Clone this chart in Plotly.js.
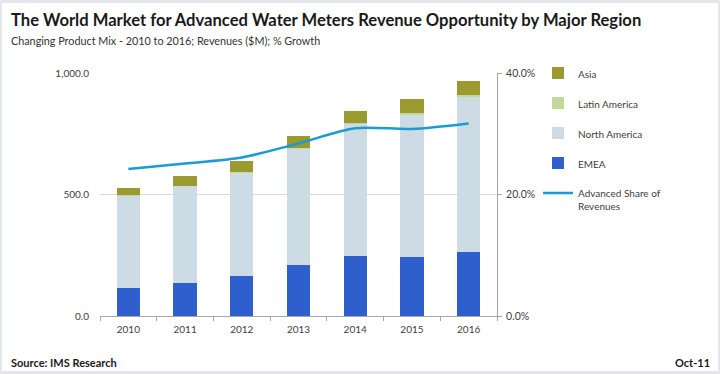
<!DOCTYPE html>
<html>
<head>
<meta charset="utf-8">
<script src="https://cdn.plot.ly/plotly-3.0.1.min.js"></script>
<style>
  html, body { margin: 0; padding: 0; background: #e3e7eb; width: 720px; height: 374px; overflow: hidden; }
  #chart { position: absolute; left: 2px; top: 3px; width: 716px; height: 368px; background: #fff; }
</style>
</head>
<body>
<div id="chart"></div>
<script>
const years = ['2010', '2011', '2012', '2013', '2014', '2015', '2016'];
const emea = [116, 134, 165, 209, 247, 244, 265];
const northAmerica = [378, 400, 423, 478, 543, 584, 637];
const latinAmerica = [3, 3, 4, 5, 5, 6, 8];
const asia = [28, 39, 46, 49, 50, 58, 57];
const advancedShare = [0.242, 0.251, 0.261, 0.284, 0.309, 0.308, 0.317];

const titleText = 'The World Market for Advanced Water Meters Revenue Opportunity by Major Region';
const subtitleText = 'Changing Product Mix - 2010 to 2016; Revenues ($M); % Growth';
const sourceText = 'Source: IMS Research';
const dateText = 'Oct-11';

const W = 716, H = 368;
const m = {l: 98, r: 221, t: 70, b: 55};
const pw = W - m.l - m.r, ph = H - m.t - m.b;
const px = x => (x - m.l) / pw;
const py = y => 1 - (y - m.t) / ph;

const font = 'Lato, "Open Sans", sans-serif';

const traces = [
  {type: 'bar', x: years, y: emea, name: 'EMEA', marker: {color: '#2f5fcc'}, legendgroup: 'e', legendrank: 4},
  {type: 'bar', x: years, y: northAmerica, name: 'North America', marker: {color: '#cddbe5'}, legendgroup: 'n', legendrank: 3},
  {type: 'bar', x: years, y: latinAmerica, name: 'Latin America', marker: {color: '#c4d89c'}, legendgroup: 'l', legendrank: 2},
  {type: 'bar', x: years, y: asia, name: 'Asia', marker: {color: '#9b9a30'}, legendgroup: 'a', legendrank: 1},
  {type: 'scatter', mode: 'lines', x: years, y: advancedShare, yaxis: 'y2', name: 'Advanced Share of<br>Revenues',
   line: {color: '#1a9ad6', width: 2.5, shape: 'spline', smoothing: 0.8}, legendgroup: 's', legendrank: 5}
];

const layout = {
  width: W, height: H,
  margin: m,
  paper_bgcolor: '#ffffff', plot_bgcolor: '#ffffff',
  barmode: 'stack', bargap: 0.59,
  font: {family: font, size: 10, color: '#404040'},
  showlegend: true,
  legend: {x: px(536), y: py(57), xanchor: 'left', yanchor: 'top', traceorder: 'grouped', tracegroupgap: 11,
           font: {size: 10, color: '#404040'}, valign: 'top', itemwidth: 30, bgcolor: 'rgba(0,0,0,0)'},
  xaxis: {type: 'category', range: [-0.5, 6.5], showline: true, linecolor: '#a6a6a6', linewidth: 1,
          ticks: 'outside', tickson: 'boundaries', ticklen: 4, tickcolor: '#a6a6a6', ticklabelstandoff: 4,
          tickfont: {size: 10, color: '#404040'}, showgrid: false, fixedrange: true},
  yaxis: {range: [0, 1000], dtick: 500, tickformat: ',.1f', showline: false, ticks: '',
          gridcolor: '#d9d9d9', gridwidth: 1, zeroline: false, tickfont: {size: 10, color: '#404040'}, ticklabelstandoff: 10},
  yaxis2: {overlaying: 'y', side: 'right', range: [0, 0.4], dtick: 0.2, tickformat: '.1%', showgrid: false,
           zeroline: false, showline: true, linecolor: '#a6a6a6', ticks: 'outside', ticklen: 4, tickcolor: '#a6a6a6',
           ticklabelstandoff: 2, tickfont: {size: 10.5, color: '#404040'}},
  annotations: [
    {text: '<b>' + titleText + '</b>', xref: 'paper', yref: 'paper', x: px(7), y: py(17), xanchor: 'left', yanchor: 'middle',
     showarrow: false, font: {size: 16.6, color: '#1a1a1a', family: font}},
    {text: subtitleText, xref: 'paper', yref: 'paper', x: px(7), y: py(37), xanchor: 'left', yanchor: 'middle',
     showarrow: false, font: {size: 10.8, color: '#333333', family: font}},
    {text: '<b>' + sourceText + '</b>', xref: 'paper', yref: 'paper', x: px(7), y: py(359), xanchor: 'left', yanchor: 'middle',
     showarrow: false, font: {size: 11, color: '#1a1a1a', family: font}},
    {text: '<b>' + dateText + '</b>', xref: 'paper', yref: 'paper', x: px(710), y: py(359), xanchor: 'right', yanchor: 'middle',
     showarrow: false, font: {size: 11, color: '#1a1a1a', family: font}}
  ]
};

Plotly.newPlot('chart', traces, layout, {displayModeBar: false, staticPlot: true});
</script>
</body>
</html>
